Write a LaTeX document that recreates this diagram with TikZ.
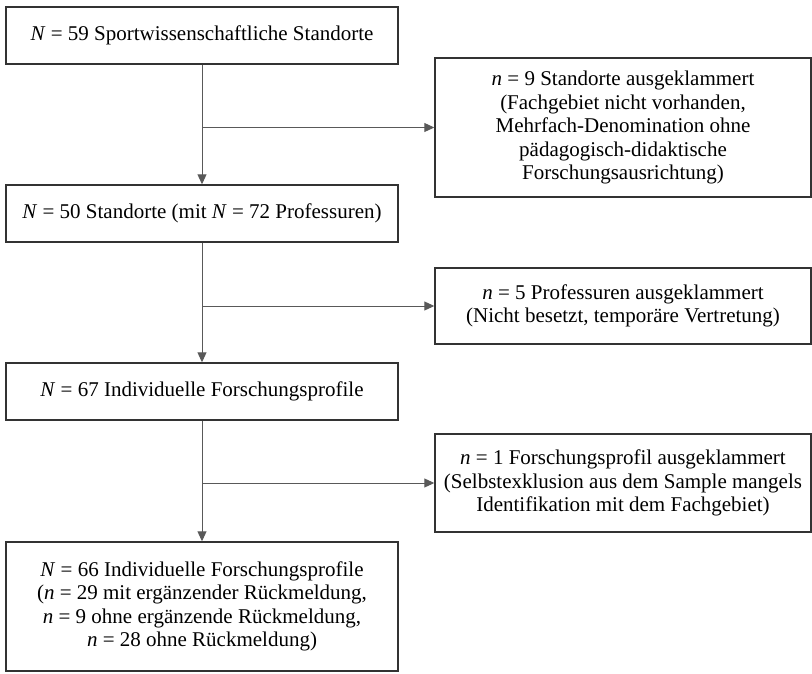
\documentclass[tikz,border=0pt]{standalone}
\usepackage{fontspec}
\setmainfont{Liberation Serif}
\usetikzlibrary{calc,arrows.meta}

\begin{document}
\begin{tikzpicture}[x=1pt,y=-1pt,line width=1pt,>={Triangle[length=10pt,width=9pt]},
  box/.style={draw=black!80,line width=1.4pt,align=center,inner sep=0pt,
    font=\fontsize{21}{23.5}\selectfont},
  main/.style={box,minimum width=392pt},
  side/.style={box,minimum width=376pt},
  flow/.style={draw=black!65,line width=1pt}]
  \useasboundingbox (0,0) rectangle (812,674);
  % linke Spalte
  \node[main,minimum height=57pt]  (b1) at (202,35.5)  {\textit{N} = 59 Sportwissenschaftliche Standorte};
  \node[main,minimum height=57pt]  (b2) at (202,213.5) {\textit{N} = 50 Standorte (mit \textit{N} = 72 Professuren)};
  \node[main,minimum height=57pt]  (b3) at (202,391.5) {\textit{N} = 67 Individuelle Forschungsprofile};
  \node[main,minimum height=129pt] (b4) at (202,606.5) {\textit{N} = 66 Individuelle Forschungsprofile\\
    (\textit{n} = 29 mit ergänzender Rückmeldung,\\ \textit{n} = 9 ohne ergänzende Rückmeldung,\\
    \textit{n} = 28 ohne Rückmeldung)};
  % ausgeklammerte Faelle rechts
  \node[side,minimum height=139pt] (x1) at (623,127.5) {\textit{n} = 9 Standorte ausgeklammert\\
    (Fachgebiet nicht vorhanden,\\ Mehrfach-Denomination ohne\\ pädagogisch-didaktische\\ Forschungsausrichtung)};
  \node[side,minimum height=76pt]  (x2) at (623,306)   {\textit{n} = 5 Professuren ausgeklammert\\
    (Nicht besetzt, temporäre Vertretung)};
  \node[side,minimum height=98pt]  (x3) at (623,483)   {\textit{n} = 1 Forschungsprofil ausgeklammert\\
    (Selbstexklusion aus dem Sample mangels\\ Identifikation mit dem Fachgebiet)};
  % Pfeile
  \draw[flow,->] (b1) -- (b2);
  \draw[flow,->] (b2) -- (b3);
  \draw[flow,->] (b3) -- (b4);
  \draw[flow,->] (b1.south |- x1.west) -- (x1.west);
  \draw[flow,->] (b2.south |- x2.west) -- (x2.west);
  \draw[flow,->] (b3.south |- x3.west) -- (x3.west);
\end{tikzpicture}
\end{document}
